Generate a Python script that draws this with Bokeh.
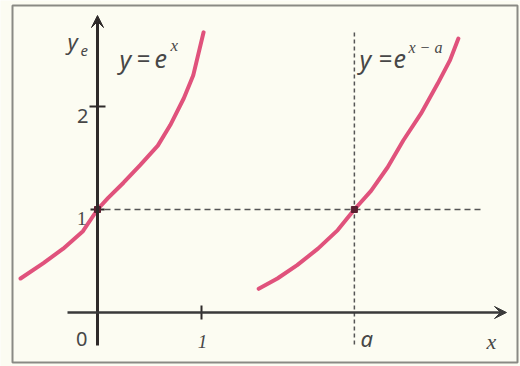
from bokeh.plotting import figure
from bokeh.models import Arrow, VeeHead, Range1d
from bokeh.core.properties import value
from bokeh.embed import file_html
from bokeh.resources import INLINE

# Curve y = e^x
exp_x = [-0.74, -0.52, -0.33, -0.14, 0.0, 0.10, 0.25, 0.41, 0.58, 0.70,
         0.83, 0.92, 1.02]
exp_y = [0.33, 0.48, 0.62, 0.79, 1.0, 1.11, 1.26, 1.43, 1.62, 1.82,
         2.08, 2.30, 2.72]

# Shifted curve y = e^(x - a)
a = 2.47
shift_x = [1.55, 1.73, 1.92, 2.12, 2.31, 2.47, 2.63, 2.79, 2.94, 3.11,
           3.27, 3.39, 3.47]
shift_y = [0.23, 0.33, 0.46, 0.62, 0.80, 1.0, 1.18, 1.41, 1.67, 1.93,
           2.22, 2.45, 2.66]

W, H = 520, 366
X0, Y0, SX, SY = 97, 312, 104, 103   # origin in px and px per unit


def dx(px):
    return (px - X0) / SX


def dy(py):
    return (Y0 - py) / SY


p = figure(width=W, height=H, output_backend="svg", toolbar_location=None,
           x_range=Range1d(dx(0), dx(W)), y_range=Range1d(dy(H), dy(0)),
           min_border=0, background_fill_color="#fcfcf2",
           border_fill_color="#fcfcf2")
p.axis.visible = False
p.grid.visible = False
p.outline_line_color = None

INK = "#2e2a2a"
CURVE = "#e0527c"
SERIF = value("Liberation Serif")
SANS = value("Noto Sans")

# frame
p.quad(left=dx(12), right=dx(517), top=dy(5), bottom=dy(362),
       fill_color=None, line_color="#8a8a84", line_width=2)

# guide lines through the level y = 1 and x = a
p.segment(x0=dx(104), y0=1, x1=dx(483), y1=1, line_color="#555",
          line_width=1.5, line_dash="6 4")
p.segment(x0=a, y0=dy(32), x1=a, y1=dy(345), line_color="#555",
          line_width=1.5, line_dash="4 3")

# coordinate axes with arrows
p.add_layout(Arrow(x_start=0, y_start=dy(345), x_end=0, y_end=dy(15),
                   line_color=INK, line_width=3,
                   end=VeeHead(size=12, line_color=INK, fill_color=INK,
                               line_width=1)))
p.add_layout(Arrow(x_start=dx(67), y_start=0, x_end=dx(506), y_end=0,
                   line_color="#3a3a3a", line_width=2.5,
                   end=VeeHead(size=12, line_color="#3a3a3a",
                               fill_color="#3a3a3a", line_width=1)))

# ticks
p.segment(x0=dx(89), y0=2, x1=dx(105), y1=2, line_color=INK, line_width=2)
p.segment(x0=1, y0=dy(305), x1=1, y1=dy(319), line_color=INK, line_width=2)
p.segment(x0=dx(90), y0=1, x1=dx(104), y1=1, line_color=INK, line_width=2)

# curves
p.line(exp_x, exp_y, line_color=CURVE, line_width=4, line_cap="round",
       line_join="round")
p.line(shift_x, shift_y, line_color=CURVE, line_width=4, line_cap="round",
       line_join="round")

# intersection points on y = 1
p.scatter([0, a], [1, 1], size=6, marker="square", color="#5a1f30")

TXT = "#474747"


def label(txt, px, py, size, font=SANS, style="italic", align="left"):
    p.text(x=[dx(px)], y=[dy(py)], text=[txt], text_font=font,
           text_font_size=f"{size}px", text_font_style=style,
           text_color=TXT, text_align=align, text_baseline="alphabetic")


# axis name y (with its small e)
label("y", 67, 40, 22)
label("e", 80, 50, 15)

# y = e^x, set glyph by glyph for the wide spacing
label("y", 119, 58, 25)
label("=", 143, 57, 24, SANS, "normal", "center")
label("e", 154, 58, 25)
label("x", 170, 45, 17, SERIF)

# y = e^(x - a)
label("y", 359, 58, 25)
label("=", 385, 57, 24, SANS, "normal", "center")
label("e", 393, 58, 25)
label("x \u2212 a", 408, 47, 16, SERIF)

# tick labels and axis names
label("2", 88, 115, 20, SANS, "normal", "right")
label("1", 86, 218, 19, SERIF, "normal", "right")
label("0", 87, 338, 20, SANS, "normal", "right")
label("1", 202, 341, 19, SERIF, "italic", "center")
label("a", 360, 337, 22)
label("x", 486, 341, 22, SERIF)

open("out.html", "w").write(file_html(p, INLINE))
